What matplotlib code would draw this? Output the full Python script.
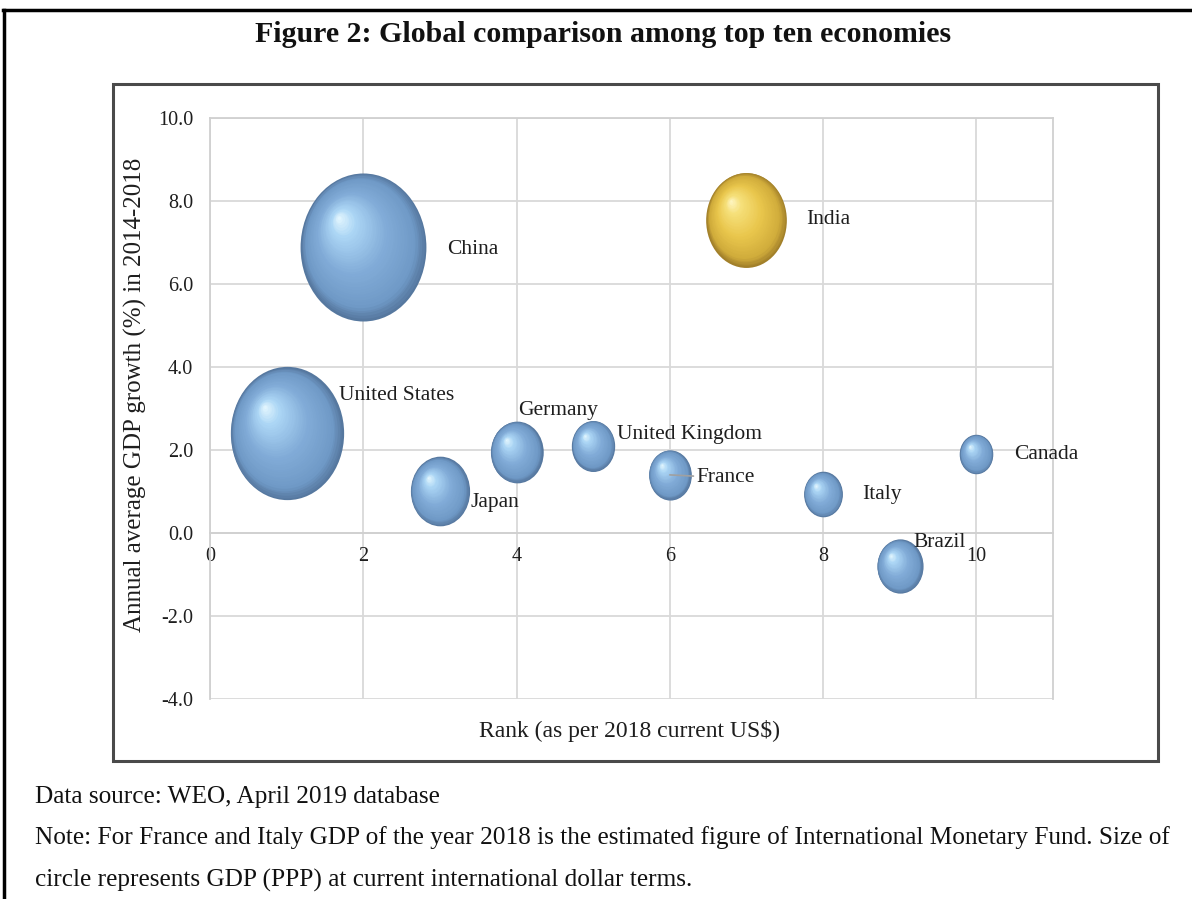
import numpy as np
import matplotlib
matplotlib.use("Agg")
import matplotlib.pyplot as plt
from matplotlib.path import Path
from matplotlib.transforms import Affine2D, ScaledTranslation
from matplotlib.colors import LinearSegmentedColormap
from matplotlib.lines import Line2D
from matplotlib.patches import Rectangle

plt.rcParams['font.family'] = ['Liberation Serif', 'DejaVu Serif']

# data
countries = ['United States', 'China', 'Japan', 'Germany', 'United Kingdom',
             'France', 'India', 'Italy', 'Brazil', 'Canada']
rank = [1, 2, 3, 4, 5, 6, 7, 8, 9, 10]
growth = [2.4, 6.9, 1.0, 1.95, 2.1, 1.4, 7.55, 0.93, -0.8, 1.9]
gdp_ppp = [20.5, 25.3, 5.6, 4.4, 3.0, 2.9, 10.4, 2.4, 3.4, 1.8]  # trillion int$

x_ticks = [0, 2, 4, 6, 8, 10]
y_ticks = [-4, -2, 0, 2, 4, 6, 8, 10]

# label offsets (points) from bubble centre
label_offsets = {
    'United States': (38, 27), 'China': (60, -2), 'Japan': (22, -8),
    'Germany': (1, 30), 'United Kingdom': (17, 8), 'France': (19, -2),
    'India': (43, 0), 'Italy': (28, 0), 'Brazil': (10, 17), 'Canada': (27, 0),
}

blue = LinearSegmentedColormap.from_list(
    'blue', [(0, '#56789f'), (0.12, '#6f99c6'), (0.45, '#82acd8'),
             (0.8, '#acd6f5'), (1, '#e8f9ff')])
gold = LinearSegmentedColormap.from_list(
    'gold', [(0, '#a2802a'), (0.12, '#d0ac3b'), (0.45, '#e9c64c'),
             (0.8, '#f6e07a'), (1, '#fff8c8')])

fig = plt.figure(figsize=(11.92, 8.99), dpi=100)
ax = fig.add_axes([0.1762, 0.2225, 0.7072, 0.6462])

# elliptical marker (the picture is stretched vertically)
ell = Path.unit_circle().transformed(Affine2D().scale(0.85, 1.0))
K = 449  # points^2 per unit gdp


def bubble(x, y, s, cmap, n=40):
    h = np.sqrt(s)
    w = h * 0.85
    hx, hy = -0.2 * w, 0.2 * h
    for k in range(n):
        f = 1 - k / n
        t = 1 - f
        off = ScaledTranslation(hx * t / 72, hy * t / 72, fig.dpi_scale_trans)
        ax.scatter([x], [y], s=s * f * f, marker=ell, color=cmap(t),
                   linewidths=0, transform=ax.transData + off, zorder=3 + k * 0.001)


for name, xv, yv, g in zip(countries, rank, growth, gdp_ppp):
    cmap = gold if name == 'India' else blue
    bubble(xv, yv, g * K, cmap)
    dx, dy = label_offsets[name]
    arrow = None
    if name == 'France':
        arrow = dict(arrowstyle='-', color='#a0a0a0', lw=1.2, shrinkA=0, shrinkB=0)
    ax.annotate(name, (xv, yv), xytext=(dx, dy), textcoords='offset points',
                ha='left', va='center', fontsize=15.5, color='#1e1e1e',
                arrowprops=arrow, zorder=5)

ax.set_xlim(0, 11)
ax.set_ylim(-4, 10)
ax.set_xticks(x_ticks)
ax.set_yticks(y_ticks)
ax.set_yticklabels([f'{v:.1f}' for v in y_ticks])
ax.grid(True, color='#d9d9d9', lw=1.3, zorder=0)
ax.set_axisbelow(True)
ax.spines['bottom'].set_position(('data', 0))
for sp in ax.spines.values():
    sp.set_color('#d0d0d0')
    sp.set_linewidth(1.3)
    sp.set_zorder(0.6)
ax.tick_params(length=0, labelsize=14.5, colors='#1e1e1e')
ax.tick_params(axis='x', pad=10)
ax.tick_params(axis='y', pad=12)
for lbl in ax.get_xticklabels():
    lbl.set_zorder(6)

ax.set_xlabel('Rank (as per 2018 current US$)', fontsize=17, color='#1e1e1e')
ax.xaxis.set_label_coords(0.498, -0.036)
ax.set_ylabel('Annual average GDP growth (%) in 2014-2018', fontsize=18, color='#1e1e1e')
ax.yaxis.set_label_coords(-0.075, 0.523)

# chart box
fig.patches.append(Rectangle((113 / 1192, 1 - 761 / 899), (1158 - 113) / 1192,
                             (761 - 84) / 899, transform=fig.transFigure,
                             fill=False, edgecolor='#4a4a4a', lw=2.2, zorder=0))
# outer page frame
fig.lines.append(Line2D([3 / 1192, 1], [1 - 10 / 899] * 2, transform=fig.transFigure,
                        color='black', lw=2.5))
fig.lines.append(Line2D([4 / 1192] * 2, [0, 1 - 10 / 899], transform=fig.transFigure,
                        color='black', lw=2.5))

fig.text(603 / 1192, 1 - 34 / 899, 'Figure 2: Global comparison among top ten economies',
         ha='center', va='center', fontsize=21.5, fontweight='bold', color='#111111')

fig.text(35 / 1192, 1 - 797 / 899, 'Data source: WEO, April 2019 database',
         ha='left', va='center', fontsize=18.2, color='#111111')
fig.text(35 / 1192, 1 - 838 / 899,
         'Note: For France and Italy GDP of the year 2018 is the estimated figure of '
         'International Monetary Fund. Size of', ha='left', va='center', fontsize=18.2,
         color='#111111')
fig.text(35 / 1192, 1 - 880 / 899,
         'circle represents GDP (PPP) at current international dollar terms.',
         ha='left', va='center', fontsize=18.2, color='#111111')

fig.savefig('out.png', dpi=100)
